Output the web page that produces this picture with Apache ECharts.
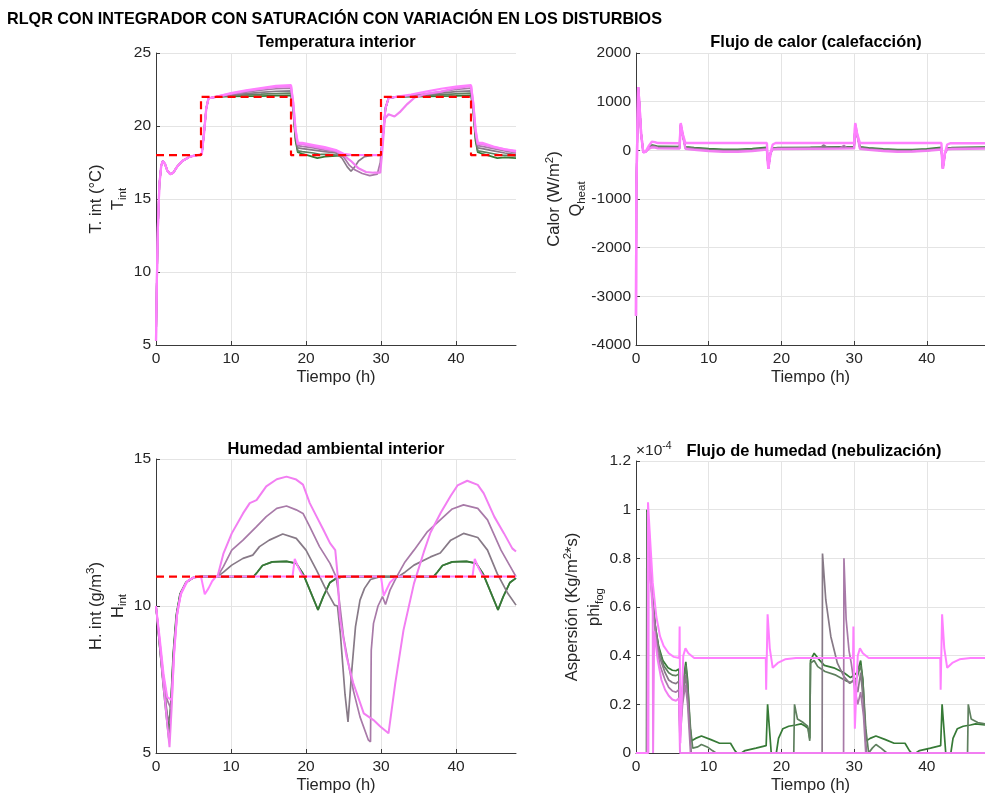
<!DOCTYPE html>
<html><head><meta charset="utf-8">
<script src="https://cdn.jsdelivr.net/npm/echarts@6/dist/echarts.min.js"></script>
<style>html,body{margin:0;padding:0;background:#fff}#c{width:985px;height:795px}</style>
</head><body><div id="c"></div>
<script>
// ---------- DATA ----------
const seriesColors = ['#367a36', '#5f805f', '#877a87', '#a87aa8', '#f27ef2', '#ff80ff'];
const xRange = [0, 48, 10];
const tempRange = [5, 25, 5];
const heatRange = [-4000, 2000, 1000];
const humRange = [5, 15, 5];
const fogRange = [0, 1.2, 0.2]; // units of 1e-4

// Temperature setpoint and series  [t (h), T (°C)]
const tempRef = [[0,18],[6,18],[6,22],[18,22],[18,18],[30,18],[30,22],[42,22],[42,18],[48,18]];
const tempStart = [[0,5.3],[0.1,9],[0.25,13],[0.45,16],[0.7,17.3],[0.9,17.6],[1.2,17.4],[1.5,16.95],[1.9,16.7],[2.3,16.8],[2.8,17.2],[3.5,17.6],[4.5,17.9],[5.5,18],[6.1,18.05],[6.4,19.5],[6.7,21.2],[7,21.9]];
const temp1 = [[8,22],[10,22.02],[12,22.05],[14,22.05],[16,22.08],[18,22.1],[18.3,21],[18.6,19],[18.9,18.2],[19.5,18.1],[20.5,17.95],[21.5,17.8],[22.5,17.9],[24,17.95],[26,18],[30,18],[30.3,19.5],[30.6,21.2],[31,21.9],[32,22],[36,22.03],[40,22.07],[42,22.1],[42.3,21],[42.6,19],[42.9,18.2],[43.5,18.1],[44.5,17.95],[45.5,17.8],[46.5,17.85],[48,17.8]];
const temp2 = [[8,22],[10,22.08],[12,22.15],[14,22.18],[16,22.22],[18,22.25],[18.3,21.2],[18.6,19.2],[18.9,18.3],[19.5,18.25],[21,18.15],[22,18.05],[23,18.05],[24,18],[26,18],[30,18],[30.3,19.5],[30.6,21.2],[31,21.9],[32,22],[36,22.1],[40,22.2],[42,22.25],[42.3,21.2],[42.6,19.2],[42.9,18.3],[43.5,18.25],[45,18.1],[46,18],[48,17.95]];
const temp3 = [[8,22],[10,22.12],[12,22.22],[14,22.3],[16,22.38],[18,22.4],[18.3,21.3],[18.6,19.4],[18.9,18.5],[19.5,18.45],[21,18.35],[22.5,18.25],[24,18.15],[24.8,17.8],[25.5,17.2],[26,16.9],[26.5,17.2],[27,17.6],[27.8,17.9],[29,18],[30,18],[30.3,19.5],[30.6,21.2],[31,21.9],[32,22],[36,22.15],[40,22.35],[42,22.4],[42.3,21.3],[42.6,19.4],[42.9,18.5],[43.5,18.45],[45,18.3],[46.5,18.15],[48,18.05]];
const temp4 = [[8,22],[10,22.18],[12,22.32],[14,22.45],[16,22.55],[18,22.6],[18.3,21.4],[18.6,19.6],[18.9,18.65],[19.5,18.6],[21,18.5],[22.5,18.35],[24,18.25],[25,17.9],[25.8,17.3],[26.5,17],[27.5,16.75],[28.5,16.6],[29.5,16.7],[29.9,17.5],[30.3,19.8],[30.6,21.3],[31,21.9],[32,22],[36,22.2],[40,22.5],[42,22.6],[42.3,21.4],[42.6,19.6],[42.9,18.65],[43.5,18.6],[45,18.45],[46.5,18.3],[48,18.15]];
const temp5 = [[8,22],[10,22.22],[12,22.4],[14,22.55],[16,22.68],[18,22.72],[18.3,21.5],[18.6,19.7],[18.9,18.75],[19.5,18.75],[21,18.6],[22.5,18.45],[24,18.3],[25,18],[26,17.6],[27,17.1],[28,16.85],[29,16.8],[29.9,16.8],[30.2,18.5],[30.5,20.5],[31,20.8],[31.8,20.65],[32.5,20.95],[33.5,21.5],[34.5,21.95],[36,22.2],[38,22.35],[40,22.6],[42,22.75],[42.3,21.5],[42.6,19.7],[42.9,18.75],[43.5,18.75],[45,18.55],[46.5,18.4],[48,18.25]];
const temp6 = [[8,22],[10,22.25],[12,22.45],[14,22.6],[16,22.75],[18,22.8],[18.3,21.6],[18.6,19.8],[18.9,18.85],[19.5,18.85],[21,18.7],[22.5,18.55],[24,18.35],[25,18.1],[26,18.02],[30,18],[30.3,19.5],[30.6,21.2],[31,21.9],[32,22],[34,22.15],[36,22.35],[38,22.55],[40,22.7],[42,22.8],[42.3,21.6],[42.6,19.8],[42.9,18.85],[43.5,18.85],[45,18.6],[46.5,18.4],[48,18.3]];

// Heat flow  [t (h), Q (W/m2)]
const heatStart = [[0,-3400],[0.05,-800],[0.3,1300],[0.45,1000],[0.7,350],[1.0,-40],[1.3,-30]];
const heat1 = [[1.8,60],[2.2,110],[2.6,100],[3,80],[6,75],[6.15,520],[6.4,330],[6.8,70],[8,55],[10,35],[12,20],[14,20],[16,35],[18,60],[18.2,-370],[18.5,-60],[18.8,40],[19.5,55],[24,60],[28,70],[30,75],[30.15,520],[30.4,330],[30.8,70],[32,50],[34,30],[36,15],[38,15],[40,30],[42,60],[42.2,-370],[42.5,-60],[42.8,40],[43.5,55],[48,65]];
const heat2 = [[1.8,50],[2.2,95],[2.6,90],[3,70],[6,65],[6.15,520],[6.4,330],[6.8,60],[8,45],[10,20],[12,5],[14,5],[16,20],[18,45],[18.2,-370],[18.5,-60],[18.8,35],[19.5,50],[24,55],[28,60],[30,65],[30.15,520],[30.4,330],[30.8,60],[32,40],[34,15],[36,0],[38,0],[40,15],[42,45],[42.2,-370],[42.5,-60],[42.8,35],[43.5,50],[48,55]];
const heat3 = [[1.8,45],[2.2,85],[2.6,80],[3,60],[6,55],[6.15,520],[6.4,330],[6.8,50],[8,35],[10,5],[12,-10],[14,-10],[16,5],[18,35],[18.2,-370],[18.5,-60],[18.8,30],[19.5,45],[24,50],[25.4,55],[25.8,110],[26.3,60],[28,55],[30,60],[30.15,520],[30.4,330],[30.8,50],[32,30],[34,5],[36,-10],[38,-10],[40,5],[42,35],[42.2,-370],[42.5,-60],[42.8,30],[43.5,45],[48,50]];
const heat4 = [[1.8,40],[2.2,75],[2.6,70],[3,50],[6,45],[6.15,530],[6.4,330],[6.8,40],[8,25],[10,-5],[12,-20],[14,-20],[16,-5],[18,25],[18.2,-375],[18.5,-60],[18.8,25],[19.5,40],[24,40],[28,45],[28.6,100],[29,50],[30,50],[30.15,530],[30.4,330],[30.8,40],[32,20],[34,-5],[36,-20],[38,-20],[40,-5],[42,25],[42.2,-375],[42.5,-60],[42.8,25],[43.5,40],[48,45]];
const heat5 = [[1.8,35],[2.2,60],[2.6,55],[3,40],[6,35],[6.15,540],[6.4,340],[6.8,30],[8,10],[10,-15],[12,-30],[14,-30],[16,-15],[18,15],[18.2,-380],[18.5,-60],[18.8,20],[19.5,25],[24,30],[28,35],[30,40],[30.15,540],[30.4,340],[30.8,30],[32,10],[34,-15],[36,-30],[38,-25],[40,-10],[42,15],[42.2,-380],[42.5,-60],[42.8,20],[43.5,25],[48,35]];
const heat6 = [[1.8,100],[2.2,180],[2.6,170],[3,150],[6,145],[6.15,560],[6.4,350],[6.8,150],[18,150],[18.2,-380],[18.5,-50],[18.8,120],[19.2,150],[30,150],[30.15,560],[30.4,350],[30.8,150],[42,150],[42.2,-380],[42.5,-50],[42.8,120],[43.2,145],[48,145]];

// Humidity  [t (h), H (g/m3)]
const humRef = [[0,11],[48,11]];
const hum1 = [[0,10],[0.5,8.6],[1,7.3],[1.4,6.4],[1.75,5.8],[2,6.8],[2.3,8.4],[2.7,9.7],[3.2,10.4],[4,10.8],[5,10.97],[6,11],[13,11],[13.5,11.15],[14.2,11.38],[15.5,11.5],[17.4,11.52],[18.7,11.45],[19.6,11.1],[20.5,10.55],[21.6,9.87],[22.3,10.32],[23.2,10.8],[24.1,10.95],[25,11],[37,11],[37.5,11.15],[38.2,11.38],[39.5,11.5],[41.4,11.52],[42.7,11.45],[43.6,11.1],[44.5,10.55],[45.6,9.87],[46.3,10.32],[47.2,10.8],[48,10.95]];
const hum2 = [[0,10],[0.5,8.6],[1,7.2],[1.4,6.2],[1.7,5.5],[2,6.6],[2.3,8.3],[2.7,9.6],[3.2,10.4],[4,10.8],[5,10.97],[6,11],[13,11],[13.5,11.15],[14.2,11.38],[15.5,11.5],[17.4,11.52],[18.7,11.45],[19.6,11.1],[20.5,10.55],[21.6,9.87],[22.3,10.32],[23.2,10.8],[24.1,10.95],[25,11],[37,11],[37.5,11.15],[38.2,11.38],[39.5,11.5],[41.4,11.52],[42.7,11.45],[43.6,11.1],[44.5,10.55],[45.6,9.87],[46.3,10.32],[47.2,10.8],[48,10.95]];
const hum3 = [[0,10],[0.5,8.7],[1,7.4],[1.5,6.3],[1.85,6],[2.1,7.2],[2.4,8.6],[2.8,9.8],[3.3,10.45],[4,10.8],[5,10.97],[6,11],[8.2,11],[9,11.15],[10.1,11.39],[11.6,11.62],[12.9,11.73],[13.8,12.02],[15.1,12.24],[16.9,12.45],[18.7,12.3],[20,11.9],[21.4,11.22],[22.7,10.54],[23.8,10.03],[24.2,10],[24.6,9],[25.2,7],[25.6,6.06],[26.1,7.8],[26.6,9.3],[27.2,10.2],[27.8,10.6],[28.6,10.9],[29.9,11],[32.3,11],[33.2,11.15],[34.4,11.39],[36.6,11.67],[37.9,11.8],[39.3,12.24],[41,12.47],[42.9,12.33],[44.2,11.9],[45.5,11.1],[46.9,10.43],[48,10.03]];
const hum4 = [[0,10],[0.5,8.8],[1,7.6],[1.5,6.8],[2,6.5],[2.2,7.5],[2.5,8.8],[2.9,9.9],[3.4,10.5],[4.2,10.85],[5,10.97],[6,11],[8.2,11],[9,11.35],[10.1,11.9],[11.6,12.24],[13.4,12.7],[14.7,13.04],[16.1,13.32],[17.4,13.4],[18.7,13.27],[19.6,13.15],[20.5,12.7],[21.8,12.02],[23.2,11.45],[24,11],[24.3,10.5],[25,8.96],[26.3,7.14],[27.2,6.23],[28.3,5.45],[28.6,5.38],[28.7,8.5],[29,9.41],[29.6,10],[30.2,10.32],[30.6,10.05],[31.2,10.54],[32.1,11],[33.2,11.5],[34.4,11.9],[36.2,12.53],[37.9,12.93],[39.5,13.3],[41,13.44],[42.9,13.32],[44.2,12.93],[46,11.9],[48,11]];
const hum5 = [[0,10],[0.5,8.7],[1,7.3],[1.5,6],[1.8,5.2],[2.1,6.6],[2.4,8.4],[2.8,9.7],[3.3,10.4],[4,10.8],[5,10.97],[6,11],[8.2,11],[9,11.79],[10.1,12.47],[11.6,13.15],[12.5,13.5],[13.4,13.6],[14.7,14.07],[16.1,14.31],[17.4,14.4],[18.7,14.3],[19.6,14.13],[20.5,13.5],[21.4,13.05],[22.3,12.6],[23.2,12.14],[23.9,11.9],[24.1,11.9],[24.2,11.1],[24.5,9.64],[25.4,8.28],[26.3,7.38],[27.7,6.35],[29,6.12],[29.9,5.9],[31,5.67],[31.9,7.37],[33,9.18],[34.4,10.77],[35.7,11.83],[36.6,12.5],[38,13.19],[39.3,13.75],[40.2,14.1],[41.5,14.26],[42.9,14.12],[43.7,13.83],[45.1,13.04],[46.4,12.47],[47.5,11.96],[48,11.85]];
const hum6 = [[0,10],[0.5,8.9],[1,7.7],[1.5,6.9],[2.1,6.8],[2.4,8.3],[2.8,9.7],[3.3,10.4],[4.2,10.85],[5,10.97],[6,11],[6.5,10.4],[7,10.6],[7.5,10.85],[8,11],[18.2,11],[18.5,11.6],[19,11.3],[19.5,11.05],[20,11],[30,11],[30.35,10.35],[31.2,10.8],[32,11],[42.2,11],[42.5,11.6],[43,11.3],[43.5,11.05],[44,11],[48,11]];

// Fog flow  [t (h), phi (x1e-4 kg/m2 s)]
const fog1 = [[0,0],[1.45,0],[1.5,1.0],[1.75,0.86],[2.1,0.68],[2.6,0.53],[3.1,0.44],[3.7,0.38],[4.4,0.35],[5,0.34],[5.5,0.338],[5.9,0.345],[6.05,0.12],[6.4,0.27],[6.85,0.375],[7.1,0.3],[7.4,0.12],[7.65,0.05],[8.2,0.06],[9,0.07],[10.3,0.055],[11.5,0.04],[13,0.04],[13.6,0.01],[13.9,0],[14.5,0],[15,0.01],[16.5,0.02],[17.9,0.03],[18.1,0.2],[18.35,0.1],[18.6,0],[19.3,0],[19.6,0.06],[20.2,0.1],[21,0.11],[22,0.115],[22.7,0.12],[23.3,0.11],[23.7,0.1],[23.9,0.06],[24,0.38],[24.5,0.41],[25,0.39],[25.9,0.36],[27.2,0.35],[28.6,0.33],[29.5,0.31],[30.4,0.33],[30.9,0.38],[31.2,0.3],[31.5,0.12],[31.7,0.05],[32.2,0.06],[33,0.07],[34.3,0.055],[35.5,0.04],[37,0.04],[37.6,0.01],[37.9,0],[38.5,0],[39,0.01],[40.5,0.02],[41.9,0.03],[42.1,0.2],[42.35,0.1],[42.6,0],[43.3,0],[43.6,0.06],[44.2,0.1],[45,0.11],[46,0.115],[46.7,0.12],[48,0.115]];
const fog2 = [[0,0],[1.5,0],[1.55,0.99],[1.8,0.85],[2.2,0.66],[2.7,0.51],[3.2,0.42],[3.8,0.36],[4.5,0.33],[5,0.32],[5.5,0.318],[5.9,0.325],[6.05,0.1],[6.4,0.25],[6.85,0.36],[7.1,0.28],[7.5,0.1],[7.8,0.02],[8.5,0.025],[9,0.035],[9.8,0.025],[10.5,0.01],[11,0],[21.7,0],[21.8,0.2],[22.2,0.14],[23,0.125],[23.6,0.11],[23.9,0.05],[24,0.37],[24.5,0.38],[25,0.355],[26,0.335],[27.5,0.32],[29,0.295],[29.5,0.29],[30.4,0.31],[30.9,0.36],[31.2,0.3],[31.6,0.1],[32,0],[32.5,0.02],[33,0.035],[33.7,0.02],[34.5,0],[45.6,0],[45.7,0.2],[46.1,0.14],[47,0.125],[48,0.12]];
const fog3 = [[0,0],[1.55,0],[1.6,0.99],[1.9,0.82],[2.3,0.62],[2.8,0.48],[3.3,0.39],[4,0.33],[4.5,0.3],[5,0.29],[5.5,0.285],[5.9,0.295],[6.05,0.08],[6.4,0.22],[6.8,0.32],[7.1,0.24],[7.6,0],[25.6,0],[25.65,0.82],[26.1,0.63],[26.8,0.478],[27.7,0.369],[28.6,0.314],[29.4,0.286],[30.1,0.3],[30.5,0.25],[30.9,0.33],[31.3,0.2],[31.7,0],[48,0]];
const fog4 = [[0,0],[1.6,0],[1.65,0.98],[1.9,0.8],[2.3,0.6],[2.8,0.45],[3.3,0.36],[4,0.3],[4.5,0.27],[5,0.255],[5.5,0.25],[5.9,0.26],[6.05,0.05],[6.4,0.2],[6.8,0.28],[7.1,0.2],[7.5,0],[28.55,0],[28.6,0.8],[28.9,0.55],[29.3,0.42],[29.6,0.37],[30.1,0.26],[30.5,0.2],[30.9,0.25],[31.3,0.15],[31.6,0],[48,0]];
const fog5 = [[0,0],[1.7,0],[1.75,0.95],[2,0.72],[2.3,0.58],[2.35,0],[2.45,0],[2.5,0.5],[3,0.38],[3.5,0.3],[4,0.26],[4.5,0.235],[5,0.22],[5.5,0.215],[5.9,0.225],[6.05,0],[48,0]];
const fog6 = [[0,0],[1.6,0],[1.65,1.03],[1.9,0.9],[2.3,0.7],[2.8,0.56],[3.3,0.48],[3.8,0.44],[4.5,0.41],[5.2,0.395],[5.95,0.39],[6,0.52],[6.1,0.04],[6.5,0.4],[6.8,0.43],[7.2,0.41],[8,0.39],[17.85,0.39],[17.9,0.26],[18.1,0.57],[18.4,0.43],[18.8,0.35],[19.5,0.37],[20.5,0.385],[22,0.39],[29.85,0.39],[29.9,0.52],[30.1,0.1],[30.5,0.4],[30.8,0.43],[31.2,0.41],[32,0.39],[41.85,0.39],[41.9,0.26],[42.1,0.57],[42.4,0.43],[42.8,0.35],[43.5,0.37],[44.5,0.385],[46,0.39],[48,0.39]];

// ---------- CHART ----------
const FONT = 'Liberation Sans, Arial, Helvetica, sans-serif';
const TXT = '#262626';
const chart = echarts.init(document.getElementById('c'), null, {renderer: 'canvas'});

const grids = [
  {left: 156, top: 53, width: 360, height: 292},
  {left: 636, top: 53, width: 360, height: 292},
  {left: 156, top: 459, width: 360, height: 294},
  {left: 636, top: 461, width: 360, height: 292}
];

const rich = {
  l: {fontSize: 16.5, lineHeight: 22, color: TXT, fontFamily: FONT},
  m: {fontSize: 16.5, lineHeight: 22, color: TXT, fontFamily: FONT},
  s: {fontSize: 11.5, lineHeight: 22, color: TXT, fontFamily: FONT, verticalAlign: 'bottom'},
  p: {fontSize: 11.5, lineHeight: 22, color: TXT, fontFamily: FONT, verticalAlign: 'top'}
};

function xAx(i) {
  return {
    gridIndex: i, type: 'value', min: xRange[0], max: xRange[1], interval: xRange[2],
    name: 'Tiempo (h)', nameLocation: 'middle', nameGap: 24,
    nameTextStyle: {fontSize: 16.5, color: TXT, fontFamily: FONT},
    axisLine: {show: true, onZero: false, lineStyle: {color: '#3a3a3a'}},
    axisTick: {show: true, inside: true, length: 4, lineStyle: {color: '#3a3a3a'}},
    axisLabel: {fontSize: 15.5, color: TXT, fontFamily: FONT, margin: 6, showMaxLabel: false},
    splitLine: {show: true, showMaxLine: false, lineStyle: {color: '#e4e4e4'}}
  };
}
function yAx(i, r, name, gap) {
  return {
    gridIndex: i, type: 'value', min: r[0], max: r[1], interval: r[2],
    name: name, nameLocation: 'middle', nameGap: gap, nameRotate: 90,
    nameTextStyle: {rich: rich, fontFamily: FONT, color: TXT},
    axisLine: {show: true, onZero: false, lineStyle: {color: '#3a3a3a'}},
    axisTick: {show: true, inside: true, length: 4, lineStyle: {color: '#3a3a3a'}},
    axisLabel: {fontSize: 15.5, color: TXT, fontFamily: FONT, margin: 5,
      formatter: v => String(Math.round(v * 1000) / 1000)},
    splitLine: {show: true, lineStyle: {color: '#e4e4e4'}}
  };
}

function line(idx, data, color, width, dashed) {
  return {
    type: 'line', xAxisIndex: idx, yAxisIndex: idx, data: data,
    showSymbol: false, symbol: 'none', clip: true, animation: false,
    lineStyle: {color: color, width: width, type: dashed ? [8, 5] : 'solid'},
    z: dashed ? 3 : 2
  };
}

const tempSeries = [temp1, temp2, temp3, temp4, temp5, temp6];
const heatSeries = [heat1, heat2, heat3, heat4, heat5, heat6];
const humSeries = [hum2, hum1, hum3, hum4, hum5, hum6];
const humColors = [seriesColors[1], seriesColors[0], seriesColors[2], seriesColors[3], seriesColors[4], seriesColors[5]];
const fogSeries = [fog1, fog2, fog3, fog4, fog5, fog6];

const series = [];
tempSeries.forEach((d, k) => series.push(line(0, tempStart.concat(d), seriesColors[k], k >= 4 ? 2.2 : 1.7)));
series.push(line(0, tempRef, '#ff0000', 2.2, true));
heatSeries.forEach((d, k) => series.push(line(1, heatStart.concat(d), seriesColors[k], k >= 4 ? 2.4 : 1.7)));
humSeries.forEach((d, k) => series.push(line(2, d, humColors[k], k >= 4 ? 2 : 1.7)));
series.push(line(2, humRef, '#ff0000', 2.2, true));
fogSeries.forEach((d, k) => series.push(line(3, d, seriesColors[k], k >= 4 ? 2 : 1.7)));

function txt(x, y, text, size, bold, align) {
  return {type: 'text', x: x, y: y, silent: true, z: 100,
    style: {text: text, fill: '#000', font: (bold ? 'bold ' : '') + size + 'px ' + FONT,
      textAlign: align || 'center', textVerticalAlign: 'middle'}};
}

const option = {
  animation: false,
  backgroundColor: '#fff',
  grid: grids,
  xAxis: [xAx(0), xAx(1), xAx(2), xAx(3)],
  yAxis: [
    yAx(0, tempRange, '{l|T. int (°C)}\n{m|T}{s|int}', 27),
    yAx(1, heatRange, '{l|Calor (W/m}{p|2}{l|)}\n{m|Q}{s|heat}', 28),
    yAx(2, humRange, '{l|H. int (g/m}{p|3}{l|)}\n{m|H}{s|int}', 27),
    yAx(3, fogRange, '{l|Aspersión (Kg/m}{p|2}{l|*s)}\n{m|phi}{s|fog}', 28)
  ],
  series: series,
  graphic: [
    txt(7, 20, 'RLQR CON INTEGRADOR CON SATURACIÓN CON VARIACIÓN EN LOS DISTURBIOS', 16.2, true, 'left'),
    txt(336, 42, 'Temperatura interior', 16.4, true),
    txt(816, 42, 'Flujo de calor (calefacción)', 16.4, true),
    txt(336, 449, 'Humedad ambiental interior', 16.4, true),
    txt(814, 451, 'Flujo de humedad (nebulización)', 16.4, true),
    {type: 'text', x: 636, y: 451, silent: true, z: 100,
      style: {text: '{a|×10}{b|-4}', textVerticalAlign: 'middle', textAlign: 'left',
        rich: {a: {fontSize: 15.5, fill: TXT, fontFamily: FONT, lineHeight: 20},
               b: {fontSize: 10.5, fill: TXT, fontFamily: FONT, lineHeight: 20, verticalAlign: 'top'}}}}
  ]
};
chart.setOption(option);
</script></body></html>
